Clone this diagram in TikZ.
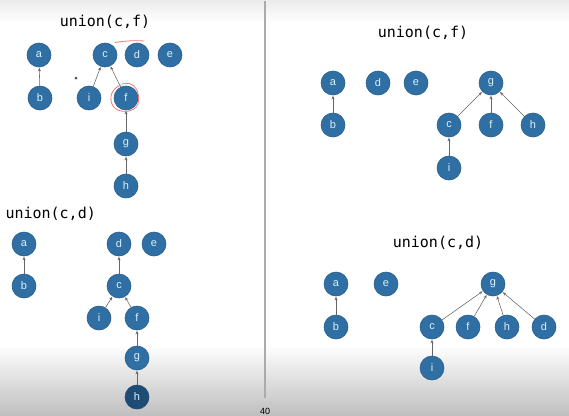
\documentclass[tikz,border=0pt]{standalone}
\usepackage{fontspec}
\setmainfont{Liberation Sans}
\newfontfamily\titlefont{DejaVu Sans Mono}
\usetikzlibrary{arrows.meta}
\definecolor{nodeblue}{HTML}{2F6FA3}
\definecolor{nodeedge}{HTML}{285F8E}
\definecolor{labelc}{HTML}{D8F2FF}
\definecolor{darkblue}{HTML}{1F4C75}
\definecolor{annot}{HTML}{EC7A7A}
\tikzset{
  vert/.style={circle, minimum size=24pt, inner sep=0pt, fill=nodeblue, draw=nodeedge, line width=0.6pt,
    text=labelc, font=\fontsize{11}{12}\selectfont},
  darkvert/.style={vert, fill=darkblue, draw=darkblue},
  link/.style={draw=black!60, line width=0.55pt, -{Stealth[length=3.5pt,width=3pt]}, shorten >=0.5pt},
  title/.style={font=\titlefont\fontsize{15}{16}\selectfont, text=black},
}
\begin{document}
\begin{tikzpicture}[x=1pt,y=-1pt]
\useasboundingbox (0,0) rectangle (569,415);
% background
\fill[white] (0,0) rectangle (569,415);
\shade[top color=black!8, bottom color=white] (0,0) rectangle (569,22);
\shade[top color=white, bottom color=black!25] (0,345) rectangle (569,415);
% divider
\fill[black!33] (263.8,1) rectangle (266.4,398);
\node[font=\fontsize{9}{10}\selectfont] (pg) at (265,411) {40};

% ---------- top-left: union(c,f) ----------
\node[title] (t1) at (105,22) {union(c,f)};
\node[vert] (a1) at (39,55) {a};
\node[vert] (c1) at (105,55) {c};
\node[vert] (d1) at (137,55) {d};
\node[vert] (e1) at (170,55) {e};
\node[vert] (b1) at (40,98) {b};
\node[vert] (i1) at (89,98) {i};
\node[vert] (f1) at (126,98) {f};
\node[vert] (g1) at (126,144) {g};
\node[vert] (h1) at (126,186) {h};
\draw[link] (b1) -- (a1);
\draw[link] (i1) -- (c1);
\draw[link] (f1) -- (c1);
\draw[link] (g1) -- (f1);
\draw[link] (h1) -- (g1);
% red annotations
\draw[annot, line width=0.8pt, line cap=round] (115,42.5) .. controls (126,40.5) and (136,40.5) .. (144,41);
\draw[annot, line width=0.8pt, line cap=round] (122,84) .. controls (134,80) and (141,92) .. (138,104)
   .. controls (135,113) and (118,114) .. (113,106) .. controls (108,98) and (112,88) .. (121,85);
\fill[black!70] (76,76.5) -- (77.5,78) -- (76,79.5) -- (74.5,78) -- cycle;

% ---------- bottom-left: union(c,d) ----------
\node[title, anchor=west] (t2) at (2,214) {union(c,d)};
\node[vert] (a2) at (24,244) {a};
\node[vert] (b2) at (24,286) {b};
\node[vert] (d2) at (119,244) {d};
\node[vert] (e2) at (154,244) {e};
\node[vert] (c2) at (119,286) {c};
\node[vert] (i2) at (99,318) {i};
\node[vert] (f2) at (137,318) {f};
\node[vert] (g2) at (137,358) {g};
\node[darkvert] (h2) at (137,397) {h};
\draw[link] (b2) -- (a2);
\draw[link] (c2) -- (d2);
\draw[link] (i2) -- (c2);
\draw[link] (f2) -- (c2);
\draw[link] (g2) -- (f2);
\draw[link] (h2) -- (g2);

% ---------- top-right: union(c,f) ----------
\node[title] (t3) at (423,33) {union(c,f)};
\node[vert] (a3) at (333,83) {a};
\node[vert] (d3) at (378,83) {d};
\node[vert] (e3) at (416,83) {e};
\node[vert] (g3) at (491,83) {g};
\node[vert] (b3) at (333,125) {b};
\node[vert] (c3) at (449,125) {c};
\node[vert] (f3) at (491,125) {f};
\node[vert] (h3) at (533,125) {h};
\node[vert] (i3) at (449,168) {i};
\draw[link] (b3) -- (a3);
\draw[link] (c3) -- (g3);
\draw[link] (f3) -- (g3);
\draw[link] (h3) -- (g3);
\draw[link] (i3) -- (c3);

% ---------- bottom-right: union(c,d) ----------
\node[title] (t4) at (438,243) {union(c,d)};
\node[vert] (a4) at (336,284) {a};
\node[vert] (e4) at (386,284) {e};
\node[vert] (g4) at (493,284) {g};
\node[vert] (b4) at (336,327) {b};
\node[vert] (c4) at (432,327) {c};
\node[vert] (f4) at (468,327) {f};
\node[vert] (h4) at (507,327) {h};
\node[vert] (d4) at (544,327) {d};
\node[vert] (i4) at (432,368) {i};
\draw[link] (b4) -- (a4);
\draw[link] (c4) -- (g4);
\draw[link] (f4) -- (g4);
\draw[link] (h4) -- (g4);
\draw[link] (d4) -- (g4);
\draw[link] (i4) -- (c4);
\end{tikzpicture}
\end{document}
